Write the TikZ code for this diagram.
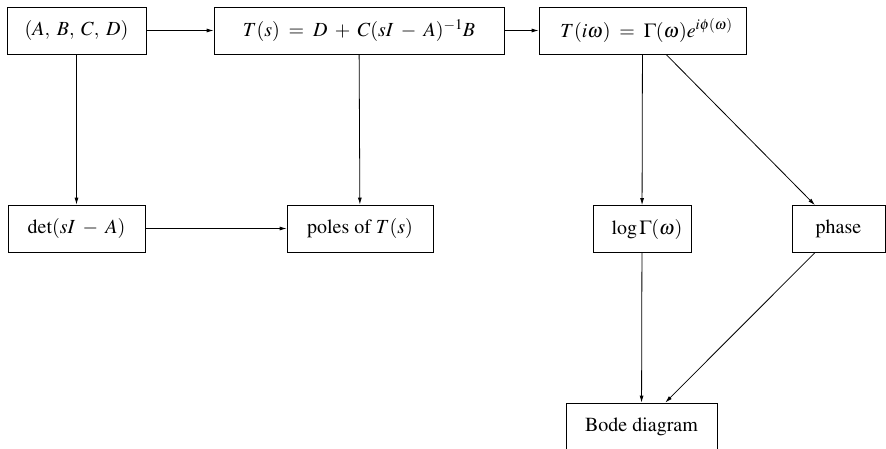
\documentclass[tikz,border=0pt]{standalone}
\usepackage[T1]{fontenc}
\usepackage{mathptmx}
\usetikzlibrary{arrows.meta}
\tikzset{
  blk/.style={draw, line width=0.8pt, minimum height=47pt, inner sep=0pt, font=\fontsize{20}{22}\selectfont},
  con/.style={line width=0.8pt, -{Latex[length=7pt,width=4pt]}}
}
\begin{document}
\begin{tikzpicture}[x=1pt,y=-1pt]
\useasboundingbox (0,0) rectangle (886,448);
\node[blk, minimum width=139pt] (abcd) at (76.5,30.5) {$(A,\;B,\;C,\;D)$};
\node[blk, minimum width=290pt] (ts) at (359,30.5) {$T(s)\;=\;D\;+\;C(sI\;-\;A)^{-1}B$};
\node[blk, minimum width=207pt] (tiw) at (642.5,30.5) {\hspace*{8pt}$T(i\omega)\;=\;\Gamma(\omega)e^{i\phi(\omega)}$};
\node[blk, minimum width=137pt] (det) at (76.5,228.5) {$\det(sI\;-\;A)$};
\node[blk, minimum width=146pt] (poles) at (360,228.5) {poles of $T(s)$};
\node[blk, minimum width=98pt] (log) at (642,229) {\hspace*{10pt}$\log\Gamma(\omega)$};
\node[blk, minimum width=93pt] (phase) at (838.5,229) {phase};
\node[blk, minimum width=151pt] (bode) at (641.5,426.5) {Bode diagram};
\draw[con] (abcd) -- (ts);
\draw[con] (ts) -- (tiw);
\draw[con] (abcd) -- (det);
\draw[con] (det) -- (poles);
\draw[con] (ts) -- (poles);
\draw[con] (tiw) -- (log);
\draw[con] (tiw) -- (phase);
\draw[con] (log) -- (bode);
\draw[con] (phase) -- (bode);
\end{tikzpicture}
\end{document}
